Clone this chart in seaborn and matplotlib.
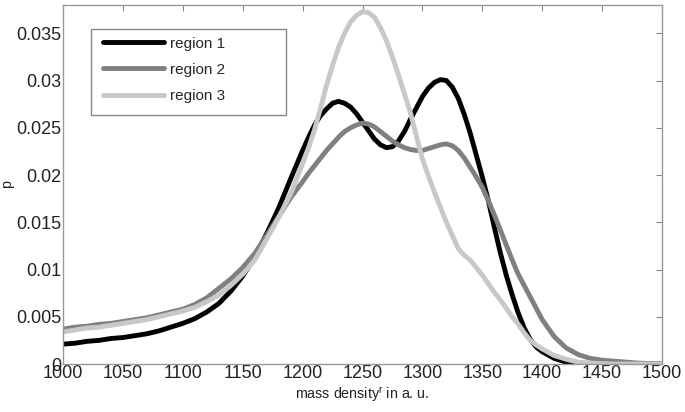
import pandas as pd
import matplotlib.pyplot as plt
from matplotlib.patches import Rectangle
import seaborn as sns

# mass density grid (a. u.), finer around the peaks
x = ([1000, 1010, 1020, 1030, 1040, 1050, 1060, 1070, 1080, 1090,
      1100, 1110, 1120, 1130, 1140, 1150, 1160, 1170, 1180, 1190]
     + [1200, 1205, 1210, 1215, 1220, 1225, 1230, 1235, 1240, 1245,
        1250, 1255, 1260, 1265, 1270, 1275, 1280, 1285, 1290, 1295,
        1300, 1305, 1310, 1315, 1320, 1325, 1330, 1335, 1340, 1345,
        1350, 1355, 1360, 1365, 1370, 1375, 1380, 1385, 1390, 1395, 1400]
     + [1410, 1420, 1430, 1440, 1450, 1460, 1470, 1480, 1490, 1500])

region1 = ([0.0021, 0.0022, 0.0024, 0.0025, 0.0027, 0.0028, 0.0030, 0.0032, 0.0035, 0.0039,
            0.0043, 0.0048, 0.0055, 0.0064, 0.0077, 0.0093, 0.0113, 0.0138, 0.0165, 0.0196]
           + [0.0226, 0.0240, 0.0253, 0.0263, 0.0270, 0.0276, 0.0278, 0.0276, 0.0272, 0.0265,
              0.0256, 0.0247, 0.0238, 0.0232, 0.0229, 0.0230, 0.0236, 0.0246, 0.0259, 0.0271,
              0.0283, 0.0292, 0.0298, 0.0301, 0.0300, 0.0293, 0.0281, 0.0264, 0.0244, 0.0221,
              0.0198, 0.0173, 0.0145, 0.0118, 0.0094, 0.0073, 0.0054, 0.0038, 0.0026, 0.0018, 0.0013]
           + [0.0006, 0.0002, 0.0001, 0.00005, 0.00002, 0.0, 0.0, 0.0, 0.0, 0.0])

region2 = ([0.0037, 0.0039, 0.0040, 0.0042, 0.0043, 0.0045, 0.0047, 0.0049, 0.0052, 0.0055,
            0.0058, 0.0063, 0.0070, 0.0080, 0.0090, 0.0102, 0.0117, 0.0136, 0.0156, 0.0176]
           + [0.0193, 0.0202, 0.0210, 0.0218, 0.0226, 0.0233, 0.0240, 0.0246, 0.0250, 0.0253,
              0.0255, 0.0254, 0.0251, 0.0246, 0.0241, 0.0236, 0.0232, 0.0229, 0.0227, 0.0226,
              0.0226, 0.0228, 0.0230, 0.0232, 0.0233, 0.0231, 0.0226, 0.0218, 0.0208, 0.0198,
              0.0187, 0.0173, 0.0158, 0.0142, 0.0126, 0.0110, 0.0095, 0.0083, 0.0071, 0.0059, 0.0047]
           + [0.0029, 0.0017, 0.0010, 0.0006, 0.0004, 0.0003, 0.0002, 0.0001, 0.00005, 0.00002])

region3 = ([0.0034, 0.0036, 0.0038, 0.0039, 0.0041, 0.0043, 0.0045, 0.0047, 0.0050, 0.0053,
            0.0056, 0.0060, 0.0066, 0.0073, 0.0083, 0.0095, 0.0110, 0.0132, 0.0155, 0.0180]
           + [0.0212, 0.0229, 0.0248, 0.0271, 0.0295, 0.0316, 0.0335, 0.0350, 0.0362, 0.0369,
              0.0373, 0.0372, 0.0367, 0.0356, 0.0342, 0.0325, 0.0306, 0.0286, 0.0266, 0.0241,
              0.0217, 0.0199, 0.0182, 0.0166, 0.0150, 0.0136, 0.0122, 0.0115, 0.0110, 0.0102,
              0.0094, 0.0085, 0.0076, 0.0068, 0.0059, 0.0050, 0.0042, 0.0033, 0.0025, 0.0020, 0.0016]
           + [0.0009, 0.0005, 0.0002, 0.0001, 0.00005, 0.0, 0.0, 0.0, 0.0, 0.0])

labels = ["region 1", "region 2", "region 3"]
colors = ["#000000", "#808080", "#c8c8c8"]

df = pd.DataFrame({"x": x * 3,
                   "p": region1 + region2 + region3,
                   "region": [labels[0]] * len(x) + [labels[1]] * len(x) + [labels[2]] * len(x)})

sns.set_style("white")
plt.rcParams['font.family'] = ['Liberation Sans', 'DejaVu Sans']
plt.rcParams['mathtext.fontset'] = 'custom'
plt.rcParams['mathtext.rm'] = 'Liberation Sans'
plt.rcParams['mathtext.it'] = 'Liberation Sans'

fig = plt.figure(figsize=(6.85, 4.12), dpi=100)
ax = fig.add_axes([0.092, 0.1165, 0.8744, 0.8714])

sns.lineplot(data=df, x="x", y="p", hue="region", palette=colors,
             linewidth=3.5, ax=ax, legend=True,
             solid_joinstyle="round", solid_capstyle="round")

ax.set_xlim(1000, 1500)
ax.set_ylim(0, 0.038)
ax.set_xticks(range(1000, 1501, 50))
ax.set_yticks([0, 0.005, 0.01, 0.015, 0.02, 0.025, 0.03, 0.035])
ax.set_yticklabels(["0", "0.005", "0.01", "0.015", "0.02", "0.025", "0.03", "0.035"])

ax.tick_params(direction="in", length=4, width=0.8, color="#888888",
               top=True, right=True, labelsize=13, labelcolor="#222222", pad=1)
for s in ax.spines.values():
    s.set_color("#999999")
    s.set_linewidth(1.0)

ax.set_xlabel("mass density$^r$ in a. u.", fontsize=10.3, color="#222222", labelpad=2)
ax.set_ylabel("p", fontsize=10.3, color="#222222")
ax.yaxis.set_label_coords(-0.082, 0.5)

# MATLAB style legend box, wider than its contents
ax.add_patch(Rectangle((0.0467, 0.6936), 0.3255, 0.2394, transform=ax.transAxes,
                       facecolor="white", edgecolor="#888888", linewidth=1.0, zorder=4))
leg = ax.legend(loc="upper left", bbox_to_anchor=(0.0668, 0.912), borderaxespad=0,
                borderpad=0, fontsize=11, frameon=False, handlelength=4.0,
                handletextpad=0.4, labelspacing=0.8)
leg.set_zorder(5)
for line in leg.get_lines():
    line.set_linewidth(3.5)

fig.savefig("out.png", dpi=100)
